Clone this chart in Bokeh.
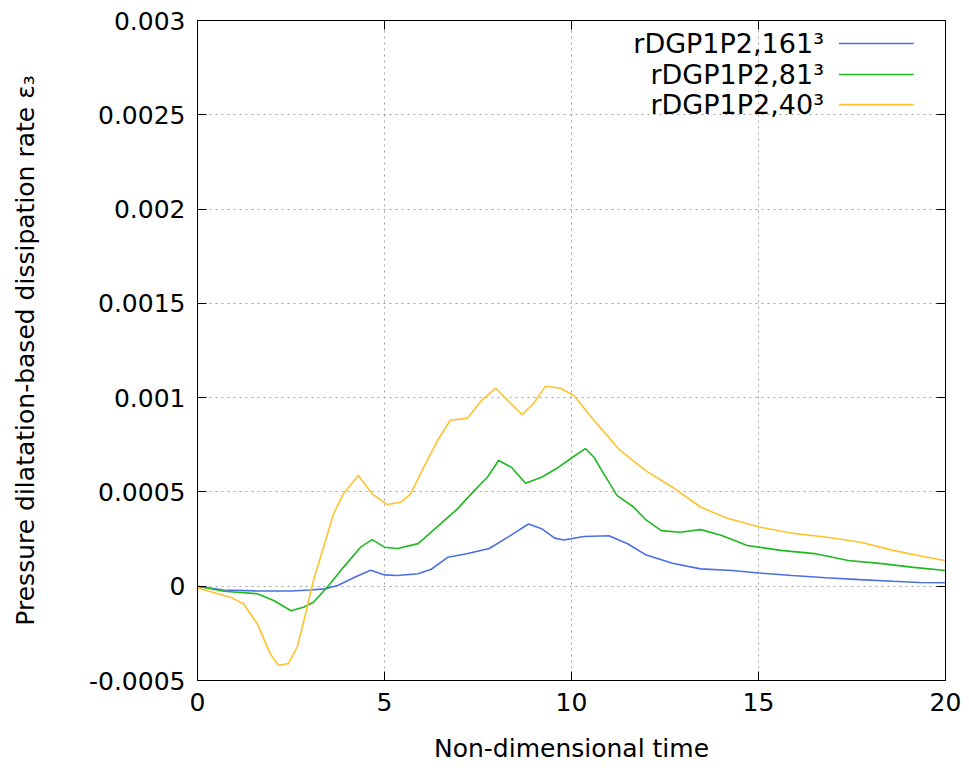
from bokeh.plotting import figure
from bokeh.models import Range1d, LinearAxis, FixedTicker, Label
from bokeh.embed import file_html
from bokeh.resources import INLINE

# ---- data ----
t_161 = [0, 0.7, 1.6, 2.5, 3.0, 3.4, 3.75, 4.2, 4.63, 5.0, 5.35, 5.9, 6.25, 6.7, 7.2, 7.8, 8.3, 8.85, 9.2, 9.55,
         9.8, 10.33, 11.0, 11.5, 12.0, 12.7, 13.45, 14.3, 15.0, 15.9, 16.8, 17.7, 18.6, 19.3, 20]
v_161 = [0, -0.00002, -0.000025, -0.000025, -0.00002, -0.000014, 0.000004, 0.000048, 0.000085, 0.00006,
         0.000057, 0.000066, 0.00009, 0.000154, 0.000172, 0.0002, 0.00026, 0.00033, 0.000305, 0.000255,
         0.000245, 0.000264, 0.000268, 0.000225, 0.000165, 0.000122, 0.000092, 0.000083, 0.00007, 0.000057,
         0.000045, 0.000035, 0.000026, 0.00002, 0.000018]

t_81 = [0, 0.7, 1.6, 2.05, 2.5, 2.85, 3.1, 3.47, 3.9, 4.36, 4.67, 5.0, 5.35, 5.9, 6.4, 6.95, 7.4, 7.75, 8.05,
        8.4, 8.77, 9.2, 9.6, 10.0, 10.37, 10.6, 10.86, 11.22, 11.66, 12.0, 12.4, 12.9, 13.45, 14.0, 14.7, 15.6,
        16.5, 17.4, 18.3, 19.15, 20]
v_81 = [0, -0.000027, -0.00004, -0.000077, -0.00013, -0.00011, -0.000085, -0.000005, 0.0001, 0.000207,
        0.000247, 0.000207, 0.0002, 0.000226, 0.000313, 0.00041, 0.000507, 0.000578, 0.000667, 0.00063,
        0.000546, 0.000578, 0.000624, 0.00068, 0.00073, 0.000684, 0.000597, 0.00048, 0.00042, 0.00035,
        0.000295, 0.000286, 0.0003, 0.00027, 0.000216, 0.00019, 0.000173, 0.000136, 0.00012, 0.0001, 0.000083]

t_40 = [0, 0.88, 1.23, 1.6, 1.95, 2.17, 2.43, 2.67, 2.89, 3.1, 3.37, 3.64, 3.9, 4.3, 4.67, 5.07, 5.43, 5.7,
        6.05, 6.41, 6.76, 7.21, 7.57, 7.97, 8.37, 8.68, 8.99, 9.3, 9.7, 10.07, 10.6, 11.3, 12.0, 12.7, 13.45,
        14.16, 15.05, 15.94, 16.84, 17.73, 18.6, 19.5, 20]
v_40 = [-0.00001, -0.000058, -0.000093, -0.0002, -0.00036, -0.00042, -0.00041, -0.00032, -0.000146, 0.00003,
        0.000207, 0.000385, 0.00049, 0.000587, 0.00049, 0.000433, 0.000445, 0.00049, 0.000631, 0.00077,
        0.00088, 0.00089, 0.00098, 0.00105, 0.00097, 0.00091, 0.00097, 0.00106, 0.00105, 0.00101, 0.00088,
        0.00072, 0.00061, 0.000525, 0.00042, 0.00036, 0.000313, 0.00028, 0.00026, 0.000233, 0.00019,
        0.000154, 0.000136]

series_names = ["rDGP1P2,161³", "rDGP1P2,81³", "rDGP1P2,40³"]
series_colors = ["#4a6fe3", "#1fb81f", "#ffc22e"]

x_ticks = [0, 5, 10, 15, 20]
x_tick_labels = ["0", "5", "10", "15", "20"]
y_ticks = [-0.0005, 0, 0.0005, 0.001, 0.0015, 0.002, 0.0025, 0.003]
y_tick_labels = ["-0.0005", "0", "0.0005", "0.001", "0.0015", "0.002", "0.0025", "0.003"]

FONT = "DejaVu Sans"

p = figure(frame_width=748, frame_height=660, output_backend="svg", toolbar_location=None,
           x_range=Range1d(0, 20), y_range=Range1d(-0.0005, 0.003),
           min_border_left=197, min_border_top=20, min_border_right=16, min_border_bottom=84,
           x_axis_label="Non-dimensional time",
           y_axis_label="Pressure dilatation-based dissipation rate ε₃")
p.outline_line_color = "black"
p.outline_line_width = 1

for ax, ticks, labels in [(p.xaxis[0], x_ticks, x_tick_labels), (p.yaxis[0], y_ticks, y_tick_labels)]:
    ax.ticker = FixedTicker(ticks=ticks)
    ax.major_label_overrides = {t: l for t, l in zip(ticks, labels)}
    ax.major_tick_in = 9
    ax.major_tick_out = 0
    ax.minor_tick_line_color = None
    ax.major_label_text_font = FONT
    ax.major_label_text_font_size = "25px"
    ax.major_label_text_color = "black"
    ax.axis_label_text_font = FONT
    ax.axis_label_text_font_size = "25px"
    ax.axis_label_text_font_style = "normal"
    ax.axis_label_text_color = "black"
    ax.axis_line_color = "black"
    ax.major_tick_line_color = "black"

p.xaxis[0].major_label_standoff = 12
p.xaxis[0].axis_label_standoff = 20
p.yaxis[0].major_label_standoff = 12
p.yaxis[0].axis_label_standoff = 46

# mirrored ticks (no labels)
for loc, ticks in [("right", y_ticks), ("above", x_ticks)]:
    a = LinearAxis(ticker=FixedTicker(ticks=ticks),
                   major_label_overrides={t: "" for t in ticks},
                   major_tick_in=9, major_tick_out=0, minor_tick_line_color=None,
                   axis_line_color="black", major_tick_line_color="black")
    p.add_layout(a, loc)

for g in (p.xgrid[0], p.ygrid[0]):
    g.grid_line_color = "#a0a0a0"
    g.grid_line_dash = "2 4"
    g.grid_line_width = 1
p.xgrid[0].ticker = FixedTicker(ticks=x_ticks)
p.ygrid[0].ticker = FixedTicker(ticks=y_ticks)

for t, v, c in [(t_161, v_161, series_colors[0]), (t_81, v_81, series_colors[1]), (t_40, v_40, series_colors[2])]:
    p.line(t, v, line_color=c, line_width=1.6)

# manual legend, gnuplot-style (text right-aligned, sample line on the right)
leg_text_x = 16.75
leg_line_x0, leg_line_x1 = 17.15, 19.15
leg_y = [0.002878, 0.002714, 0.002554]
for name, c, yy in zip(series_names, series_colors, leg_y):
    p.add_layout(Label(x=leg_text_x, y=yy, text=name, text_align="right", text_baseline="middle",
                       text_font=FONT, text_font_size="27px", text_color="black"))
    p.line([leg_line_x0, leg_line_x1], [yy, yy], line_color=c, line_width=1.6)

open("out.html", "w").write(file_html(p, INLINE))
